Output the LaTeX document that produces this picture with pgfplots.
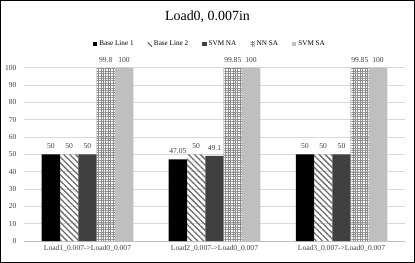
\documentclass[border=0pt]{standalone}
\usepackage{pgfplots}
\pgfplotsset{compat=1.18}
\usepackage{fontspec}
\setmainfont{Liberation Serif}
\usetikzlibrary{patterns.meta}
\definecolor{dg}{HTML}{404040}
\definecolor{lg}{HTML}{BFBFBF}
\definecolor{grd}{HTML}{D9D9D9}
\definecolor{txt}{HTML}{404040}
\begin{document}
\begin{tikzpicture}
\useasboundingbox (-24bp,-22bp) rectangle (391bp,241bp);
\begin{axis}[
  at={(0,0)}, anchor=south west,
  scale only axis, width=381bp, height=173.3bp,
  ymin=0, ymax=100, ytick={0,10,...,100},
  xmin=-0.5, xmax=2.5, xtick={0,1,2},
  xticklabels={Load1\_0.007->Load0\_0.007,Load2\_0.007->Load0\_0.007,Load3\_0.007->Load0\_0.007},
  ymajorgrids, grid style={grd, line width=0.6bp},
  axis line style={draw=none},
  extra y ticks={0}, extra y tick style={grid style={lg, line width=0.8bp}, yticklabels={}},
  major tick length=0pt,
  tick label style={font=\fontsize{7.6}{9}\selectfont, text=txt},
  yticklabel style={xshift=-4bp},
  xticklabel style={yshift=-1bp},
  /pgf/number format/assume math mode=true,
  ybar=0pt, bar width=18.3bp,
  clip=false,
  nodes near coords,
  nodes near coords style={font=\fontsize{7.6}{9}\selectfont, text=txt, yshift=2bp,
    /pgf/number format/.cd, fixed, precision=2, assume math mode=true},
  title={Load0, 0.007in},
  title style={at={(0.4816,1.26)}, anchor=center, font=\fontsize{14}{16}\selectfont},
  legend columns=5,
  legend style={at={(0.488,1.137)}, anchor=center, draw=none, fill=none,
    font=\fontsize{7.2}{8}\selectfont, text=black,
    /tikz/every even column/.append style={column sep=12bp}},
  legend image code/.code={\draw[#1, draw=none] (0bp,-2.2bp) rectangle (4.4bp,2.2bp);},
]
\addplot[fill=black, draw=none] coordinates {(0,50) (1,47.05) (2,50)};
\addlegendentry{Base Line 1}
\addplot[draw=none, pattern={Lines[angle=-45,distance=4.2bp,line width=1.3bp]}, pattern color=gray!85!black] coordinates {(0,50) (1,50) (2,50)};
\addlegendentry{Base Line 2}
\addplot[fill=dg, draw=none] coordinates {(0,50) (1,49.1) (2,50)};
\addlegendentry{SVM NA}
\addplot[draw=none, pattern={Hatch[angle=0,distance=2.4bp,line width=0.45bp]}, pattern color=gray!90] coordinates {(0,99.8) (1,99.85) (2,99.85)};
\addlegendentry{NN SA}
\addplot[fill=lg, draw=none] coordinates {(0,100) (1,100) (2,100)};
\addlegendentry{SVM SA}
\end{axis}
\draw[line width=1.5bp] (-23.25bp,-21.25bp) rectangle (390.25bp,240.25bp);
\end{tikzpicture}
\end{document}
